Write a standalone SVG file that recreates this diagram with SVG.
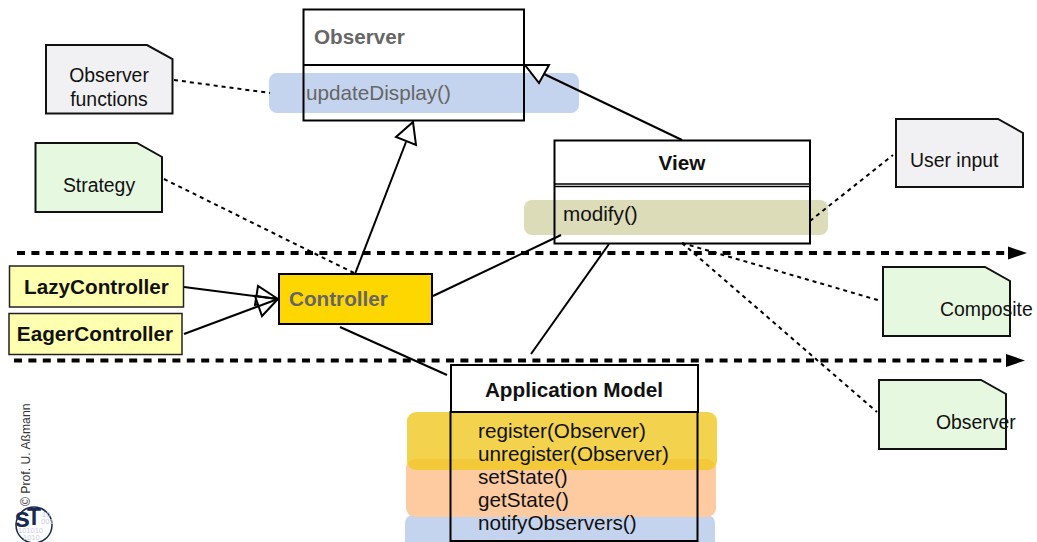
<svg xmlns="http://www.w3.org/2000/svg" width="1037" height="542" viewBox="0 0 1037 542">
<style>
text{font-family:"Liberation Sans",Arial,sans-serif;fill:#111}
.b{font-weight:bold;font-size:20.700px}
.m{font-size:20.700px}
.n{font-size:19.400px}
.g{fill:#666}
.box{fill:none;stroke:#000;stroke-width:2}
.note{stroke:#111;stroke-width:2}
.w{fill:#f1f1f4}.e{fill:#e6f8e0}
.l{fill:none;stroke:#000;stroke-width:2}
.d{fill:none;stroke:#000;stroke-width:2;stroke-dasharray:4 4}
.t{fill:none;stroke:#000;stroke-width:4;stroke-dasharray:8 6.400;marker-end:url(#ah)}
.tri{fill:#fff;stroke:#000;stroke-width:2}
.bin{font-size:7.500px;fill:#c9cbe8}
.st{font-weight:bold;fill:#1a2a50}
</style>
<defs><marker id="ah" markerUnits="userSpaceOnUse" markerWidth="20" markerHeight="14" refX="0" refY="7" orient="auto"><path d="M0 0.500L19 7L0 13.500Z" fill="#000"/></marker></defs>
<g id="highlights">
<rect x="269" y="73" width="310" height="40" rx="8" fill="#c5d4ee"/>
<rect x="524" y="200" width="304" height="35" rx="8" fill="#dcdcb8"/>
<rect x="405" y="515" width="310" height="40" rx="8" fill="#c5d4ee"/>
<rect x="406" y="459" width="310" height="58" rx="9" fill="#fecba1"/>
<rect x="407" y="412" width="310" height="58" rx="9" fill="#f0c820" fill-opacity=".8"/>
</g>
<g id="connectors">
<path class="t" d="M17 253H1008"/>
<path class="t" d="M14 360.500H1006"/>
<path class="d" d="M174 80L270 93"/>
<path class="d" d="M164 179L354 273"/>
<path class="d" d="M810 221L893 155"/>
<path class="d" d="M682 243L881 301"/>
<path class="d" d="M682 243L877 412"/>
<path class="l" d="M355 274L406 142"/>
<path class="l" d="M682 140L544 74"/>
<path class="l" d="M433 296L561 235"/>
<path class="l" d="M340 327L447 375"/>
<path class="l" d="M531 354L609 244"/>
<path class="tri" d="M413 122L396 137L416 145Z"/>
<path class="tri" d="M525 65L549 65L539 83Z"/>
<path class="tri" d="M278 299L258 286L255 305Z"/>
<path class="tri" d="M278 299L255 296L262 316Z"/>
<path class="l" d="M184 287L278 299"/>
<path class="l" d="M184 334L278 299"/>
</g>
<g id="observer">
<rect class="box" x="303.500" y="9.500" width="220.500" height="111"/>
<path class="l" d="M303 65H525" stroke-width="2.500"/>
<text class="b g" x="314" y="44">Observer</text>
<text class="m g" x="306" y="100">updateDisplay()</text>
</g>
<g id="view">
<rect class="box" x="554.500" y="140.500" width="255.500" height="103"/>
<path d="M554 184H811M554 186.500H811" fill="none" stroke="#000" stroke-width="1.500"/>
<text class="b" x="682" y="170" text-anchor="middle">View</text>
<text class="m" x="563" y="221">modify()</text>
</g>
<g id="controller">
<rect x="279" y="274" width="153" height="50" fill="#ffd700" stroke="#000" stroke-width="2"/>
<text class="b g" x="289" y="306">Controller</text>
</g>
<g id="lazy">
<rect x="9.500" y="266" width="174" height="41" fill="#ffffb0" stroke="#222" stroke-width="1.500"/>
<text class="b" x="96.500" y="294" text-anchor="middle">LazyController</text>
</g>
<g id="eager">
<rect x="9" y="313.500" width="173" height="41" fill="#ffffb0" stroke="#222" stroke-width="1.500"/>
<text class="b" x="95" y="341" text-anchor="middle">EagerController</text>
</g>
<g id="model">
<rect x="451" y="365" width="247" height="47" fill="#fff" stroke="#000" stroke-width="2"/>
<rect x="450.500" y="412" width="247" height="129" fill="none" stroke="#000" stroke-width="2"/>
<text class="b" x="574" y="397" text-anchor="middle">Application Model</text>
<text class="m" x="478" y="438">register(Observer)</text>
<text class="m" x="478" y="461">unregister(Observer)</text>
<text class="m" x="478" y="484">setState()</text>
<text class="m" x="478" y="507">getState()</text>
<text class="m" x="478" y="530">notifyObservers()</text>
</g>
<g id="note-functions">
<path class="note w" d="M46 45H147L172.500 59V113.500H46Z"/>
<text class="n" x="109" y="82" text-anchor="middle">Observer</text>
<text class="n" x="109" y="106" text-anchor="middle">functions</text>
</g>
<g id="note-strategy">
<path class="note e" d="M35.500 143H137L162 157V212H35.500Z"/>
<text class="n" x="99" y="192" text-anchor="middle">Strategy</text>
</g>
<g id="note-input">
<path class="note w" d="M896 119H998L1023 133V187H896Z"/>
<text class="n" x="910" y="167">User input</text>
</g>
<g id="note-composite">
<path class="note e" d="M883 267H985L1010 281V336H883Z"/>
<text class="n" x="940" y="316">Composite</text>
</g>
<g id="note-observer">
<path class="note e" d="M879 380H981L1006 394V449H879Z"/>
<text class="n" x="936" y="429">Observer</text>
</g>
<g id="logo">
<text x="30" y="506" transform="rotate(-90 30 506)" font-size="12.200" style="fill:#333">© Prof. U. Aßmann</text>
<circle cx="34" cy="525" r="18" fill="#fff" stroke="#1a2a50" stroke-width="1.500"/>
<text class="bin" x="42" y="517">10</text>
<text class="bin" x="41" y="524">001</text>
<text class="bin" x="18" y="533">101010</text>
<text class="bin" x="23" y="539.500">1010</text>
<text class="st" x="14.500" y="527" font-size="28">s</text>
<text class="st" x="27" y="525" font-size="23">T</text>
</g>
</svg>
